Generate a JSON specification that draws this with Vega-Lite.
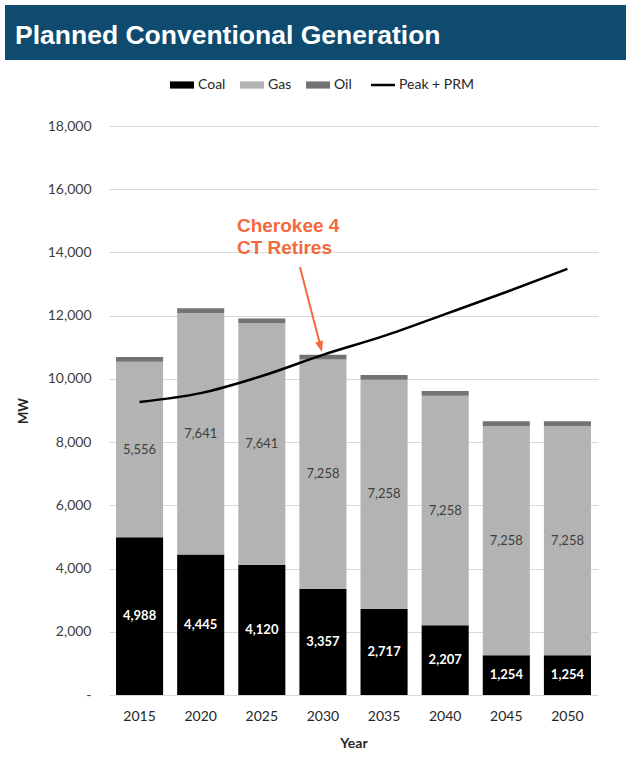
{
  "$schema": "https://vega.github.io/schema/vega-lite/v6.json",
  "background": "white",
  "padding": {"left": 5, "top": 5, "right": 0, "bottom": 0},
  "config": {"view": {"stroke": null}, "font": "Lato"},
  "spacing": 59,
  "vconcat": [
    {
      "width": 621,
      "height": 55,
      "view": {"fill": "#0e4b6e", "stroke": null},
      "title": {
        "text": "Planned Conventional Generation",
        "anchor": "start",
        "orient": "top",
        "offset": -57,
        "dx": 10,
        "baseline": "middle",
        "color": "white",
        "font": "Liberation Sans",
        "fontSize": 26.5,
        "fontWeight": "bold"
      },
      "data": {"values": []},
      "mark": "point"
    },
    {
      "spacing": 11,
      "hconcat": [
        {"width": 1, "height": 1, "data": {"values": []}, "mark": "point"},
        {
          "width": 489,
          "height": 569,
          "data": {
            "values": [
              {"Year": 2015, "Fuel": "Coal", "MW": 4988},
              {"Year": 2015, "Fuel": "Gas", "MW": 5556},
              {"Year": 2015, "Fuel": "Oil", "MW": 150},
              {"Year": 2020, "Fuel": "Coal", "MW": 4445},
              {"Year": 2020, "Fuel": "Gas", "MW": 7641},
              {"Year": 2020, "Fuel": "Oil", "MW": 150},
              {"Year": 2025, "Fuel": "Coal", "MW": 4120},
              {"Year": 2025, "Fuel": "Gas", "MW": 7641},
              {"Year": 2025, "Fuel": "Oil", "MW": 150},
              {"Year": 2030, "Fuel": "Coal", "MW": 3357},
              {"Year": 2030, "Fuel": "Gas", "MW": 7258},
              {"Year": 2030, "Fuel": "Oil", "MW": 150},
              {"Year": 2035, "Fuel": "Coal", "MW": 2717},
              {"Year": 2035, "Fuel": "Gas", "MW": 7258},
              {"Year": 2035, "Fuel": "Oil", "MW": 150},
              {"Year": 2040, "Fuel": "Coal", "MW": 2207},
              {"Year": 2040, "Fuel": "Gas", "MW": 7258},
              {"Year": 2040, "Fuel": "Oil", "MW": 150},
              {"Year": 2045, "Fuel": "Coal", "MW": 1254},
              {"Year": 2045, "Fuel": "Gas", "MW": 7258},
              {"Year": 2045, "Fuel": "Oil", "MW": 150},
              {"Year": 2050, "Fuel": "Coal", "MW": 1254},
              {"Year": 2050, "Fuel": "Gas", "MW": 7258},
              {"Year": 2050, "Fuel": "Oil", "MW": 150}
            ]
          },
          "layer": [
            {
              "mark": {"type": "bar"},
              "encoding": {
                "x": {
                  "field": "Year",
                  "type": "ordinal",
                  "title": "Year",
                  "scale": {"paddingInner": 0.23, "paddingOuter": 0.115},
                  "axis": {
                    "labelAngle": 0,
                    "domain": false,
                    "ticks": false,
                    "tickSize": 0,
                    "labelPadding": 14,
                    "labelFontSize": 14,
                    "labelColor": "#262626",
                    "titleFontSize": 14,
                    "titleFontWeight": "bold",
                    "titleColor": "#262626",
                    "titlePadding": 13
                  }
                },
                "y": {
                  "field": "MW",
                  "type": "quantitative",
                  "stack": "zero",
                  "title": "MW",
                  "scale": {"domain": [0, 18000], "nice": false},
                  "axis": {
                    "values": [0, 2000, 4000, 6000, 8000, 10000, 12000, 14000, 16000, 18000],
                    "labelExpr": "datum.value === 0 ? '-' : format(datum.value, ',')",
                    "grid": true,
                    "gridColor": "#d9d9d9",
                    "domain": false,
                    "ticks": false,
                    "tickSize": 0,
                    "labelPadding": 18,
                    "labelFontSize": 14,
                    "labelColor": "#404040",
                    "titleFontSize": 13,
                    "titleFontWeight": "bold",
                    "titleColor": "#262626",
                    "titlePadding": 17
                  }
                },
                "order": {"field": "Fuel", "type": "nominal", "sort": "ascending"},
                "color": {
                  "field": "Fuel",
                  "type": "nominal",
                  "scale": {
                    "domain": ["Coal", "Gas", "Oil", "Peak + PRM"],
                    "range": ["#000000", "#b3b3b3", "#737373", "#000000"]
                  },
                  "legend": {
                    "title": null,
                    "orient": "none",
                    "legendX": 170,
                    "legendY": 73,
                    "direction": "horizontal",
                    "symbolSize": 576,
                    "symbolStrokeWidth": 0,
                    "labelFontSize": 14,
                    "labelColor": "#262626",
                    "labelOffset": 9,
                    "columnPadding": 14,
                    "encode": {
                      "symbols": {
                        "update": {
                          "shape": {"signal": "datum.value === 'Peak + PRM' ? 'M-1,0H1' : 'M-1,-0.3H1V0.3H-1Z'"},
                          "strokeWidth": {"signal": "datum.value === 'Peak + PRM' ? 2.5 : 0"},
                          "stroke": {"value": "#000000"}
                        }
                      }
                    }
                  }
                }
              }
            },
            {
              "data": {
                "values": [
                  {"Year": 2015, "Peak": 9270},
                  {"Year": 2020, "Peak": 9550},
                  {"Year": 2025, "Peak": 10090},
                  {"Year": 2030, "Peak": 10760},
                  {"Year": 2035, "Peak": 11360},
                  {"Year": 2040, "Peak": 12050},
                  {"Year": 2045, "Peak": 12750},
                  {"Year": 2050, "Peak": 13480}
                ]
              },
              "mark": {"type": "line", "strokeWidth": 2.5, "interpolate": "monotone"},
              "encoding": {
                "x": {"field": "Year", "type": "ordinal", "title": "Year"},
                "y": {"field": "Peak", "type": "quantitative", "title": "MW"},
                "color": {"datum": "Peak + PRM", "type": "nominal"}
              }
            },
            {
              "transform": [
                {"stack": "MW", "groupby": ["Year"], "sort": [{"field": "Fuel", "order": "ascending"}], "as": ["v0", "v1"]},
                {"calculate": "(datum.v0 + datum.v1) / 2", "as": "mid"},
                {"filter": "datum.Fuel === 'Coal'"}
              ],
              "mark": {"type": "text", "color": "white", "fontWeight": "bold", "fontSize": 13},
              "encoding": {
                "x": {"field": "Year", "type": "ordinal", "title": "Year"},
                "y": {"field": "mid", "type": "quantitative", "title": "MW"},
                "text": {"field": "MW", "type": "quantitative", "format": ","}
              }
            },
            {
              "transform": [
                {"stack": "MW", "groupby": ["Year"], "sort": [{"field": "Fuel", "order": "ascending"}], "as": ["v0", "v1"]},
                {"calculate": "(datum.v0 + datum.v1) / 2", "as": "mid"},
                {"filter": "datum.Fuel === 'Gas'"}
              ],
              "mark": {"type": "text", "color": "#404040", "fontSize": 13},
              "encoding": {
                "x": {"field": "Year", "type": "ordinal", "title": "Year"},
                "y": {"field": "mid", "type": "quantitative", "title": "MW"},
                "text": {"field": "MW", "type": "quantitative", "format": ","}
              }
            },
            {
              "data": {"values": [{}]},
              "mark": {"type": "text", "text": "Cherokee 4", "align": "left", "baseline": "middle", "dx": -86, "color": "#f26a3d", "font": "Liberation Sans", "fontSize": 19, "fontWeight": "bold"},
              "encoding": {
                "x": {"datum": 2030, "type": "ordinal"},
                "y": {"datum": 14840, "type": "quantitative"}
              }
            },
            {
              "data": {"values": [{}]},
              "mark": {"type": "text", "text": "CT Retires", "align": "left", "baseline": "middle", "dx": -86, "color": "#f26a3d", "font": "Liberation Sans", "fontSize": 19, "fontWeight": "bold"},
              "encoding": {
                "x": {"datum": 2030, "type": "ordinal"},
                "y": {"datum": 14140, "type": "quantitative"}
              }
            },
            {
              "data": {"values": [{}]},
              "mark": {"type": "rule", "color": "#f26a3d", "strokeWidth": 2, "xOffset": -23, "x2Offset": -3},
              "encoding": {
                "x": {"datum": 2030, "type": "ordinal"},
                "x2": {"datum": 2030},
                "y": {"datum": 13540, "type": "quantitative"},
                "y2": {"datum": 11100}
              }
            },
            {
              "data": {"values": [{}]},
              "mark": {"type": "point", "shape": "M0,0L-0.8,-2.2L0.8,-2.2Z", "filled": true, "color": "#f26a3d", "size": 100, "angle": 345, "opacity": 1, "strokeWidth": 0, "xOffset": -1},
              "encoding": {
                "x": {"datum": 2030, "type": "ordinal"},
                "y": {"datum": 10850, "type": "quantitative"}
              }
            }
          ]
        }
      ]
    }
  ]
}
